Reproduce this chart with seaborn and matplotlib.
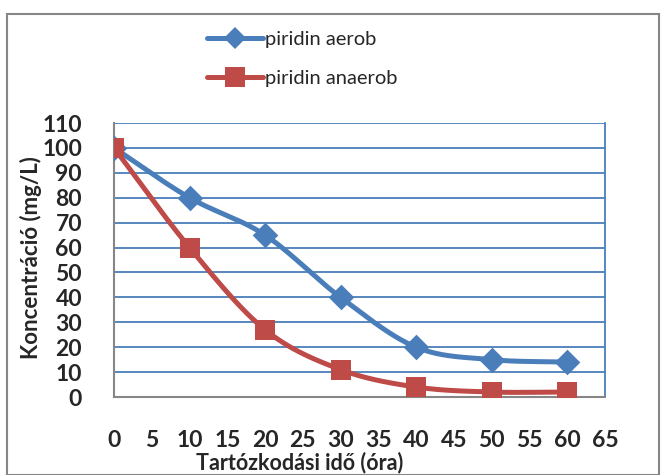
import numpy as np
import pandas as pd
import matplotlib
matplotlib.use("Agg")
import matplotlib.pyplot as plt
from matplotlib.ticker import MultipleLocator
from matplotlib.lines import Line2D
import seaborn as sns

# data
time_h = [0, 10, 20, 30, 40, 50, 60]
aerob = [100, 80, 65, 40, 20, 15, 14]
anaerob = [100, 60, 27, 11, 4, 2, 2]
series_names = ["piridin aerob", "piridin anaerob"]
x_ticks = list(range(0, 70, 5))
y_ticks = list(range(0, 120, 10))

sns.set_theme(style="white")
plt.rcParams['font.family'] = ['Lato', 'DejaVu Sans']

colors = {"piridin aerob": "#4A7EBB", "piridin anaerob": "#BE4B48"}
markers = {"piridin aerob": "D", "piridin anaerob": "s"}


def smooth(xs, ys, n=30):
    # Catmull-Rom style smoothing (like spreadsheet smoothed lines)
    xs = np.asarray(xs, float); ys = np.asarray(ys, float)
    px = np.concatenate([[2*xs[0]-xs[1]], xs, [2*xs[-1]-xs[-2]]])
    py = np.concatenate([[2*ys[0]-ys[1]], ys, [2*ys[-1]-ys[-2]]])
    ox, oy = [], []
    t = np.linspace(0, 1, n)
    for i in range(1, len(px)-2):
        for arr, out in ((px, ox), (py, oy)):
            p0, p1, p2, p3 = arr[i-1], arr[i], arr[i+1], arr[i+2]
            c1 = p1 + (p2 - p0) / 6
            c2 = p2 - (p3 - p1) / 6
            b = ((1-t)**3)*p1 + 3*((1-t)**2)*t*c1 + 3*(1-t)*t**2*c2 + t**3*p2
            out.extend(b if i == len(px)-3 else b[:-1])
    return np.array(ox), np.array(oy)


fig = plt.figure(figsize=(6.64, 4.75), dpi=100)
ax = fig.add_axes([114/664, 1-397/475, (605-114)/664, (397-123)/475])

handles = []
for name, vals in zip(series_names, [aerob, anaerob]):
    sx, sy = smooth(time_h, vals)
    dfs = pd.DataFrame({"x": sx, "y": sy})
    sns.lineplot(data=dfs, x="x", y="y", ax=ax, color=colors[name], lw=3.6,
                 sort=False, estimator=None, zorder=3)
    dfp = pd.DataFrame({"x": time_h, "y": vals})
    ms = 170 if markers[name] == "D" else 210
    sns.scatterplot(data=dfp, x="x", y="y", ax=ax, color=colors[name],
                    marker=markers[name], s=ms, linewidth=0, zorder=4)
    handles.append(Line2D([0], [0], color=colors[name], lw=3.6,
                          marker=markers[name],
                          markersize=11 if markers[name] == "D" else 14,
                          markeredgewidth=0))

ax.set_xlim(0, 65)
ax.set_ylim(0, 110)
ax.set_xticks(x_ticks)
ax.set_yticks(y_ticks)
ax.xaxis.set_minor_locator(MultipleLocator(1))
ax.yaxis.set_minor_locator(MultipleLocator(2))
ax.yaxis.grid(True, color="#4A7EBB", lw=1.3)
ax.xaxis.grid(False)
ax.set_axisbelow(True)

for s in ["left", "bottom"]:
    ax.spines[s].set_color("#868686")
    ax.spines[s].set_linewidth(1.5)
ax.spines["right"].set_color("#4A7EBB")
ax.spines["right"].set_linewidth(1.3)
ax.spines["top"].set_visible(False)

ax.tick_params(axis="x", which="major", direction="out", length=8, width=1.5,
               color="#868686", pad=16, labelsize=16.5)
ax.tick_params(axis="x", which="minor", direction="out", length=5, width=1,
               color="#868686")
ax.tick_params(axis="y", which="major", direction="out", length=6, width=1.5,
               color="#868686", pad=17, labelsize=16.5)
ax.tick_params(axis="y", which="minor", direction="out", length=4, width=1,
               color="#868686")
for lab in ax.get_xticklabels() + ax.get_yticklabels():
    lab.set_fontweight("bold")

ax.set_xlabel("")
ax.set_ylabel("")
fig.text(31/664, 1-258/475, "Koncentráció (mg/L)", fontsize=16,
         fontweight="bold", rotation=90, ha="center", va="center")
fig.text(300/664, 1-463/475, "Tartózkodási idő (óra)", fontsize=15.5,
         fontweight="bold", ha="center", va="center")

leg = fig.legend(handles, series_names, loc="upper left",
                 bbox_to_anchor=(207/664, 1-31/475), frameon=False,
                 fontsize=14.5, handlelength=2.8, handletextpad=0.1,
                 labelspacing=1.1, borderaxespad=0, borderpad=0)

# outer chart border
fig.patches.append(plt.Rectangle((7/664, 0.0), 652/664, 1-14/475,
                                 transform=fig.transFigure, fill=False,
                                 edgecolor="#868686", lw=1.5))

fig.savefig("out.png", dpi=100)
